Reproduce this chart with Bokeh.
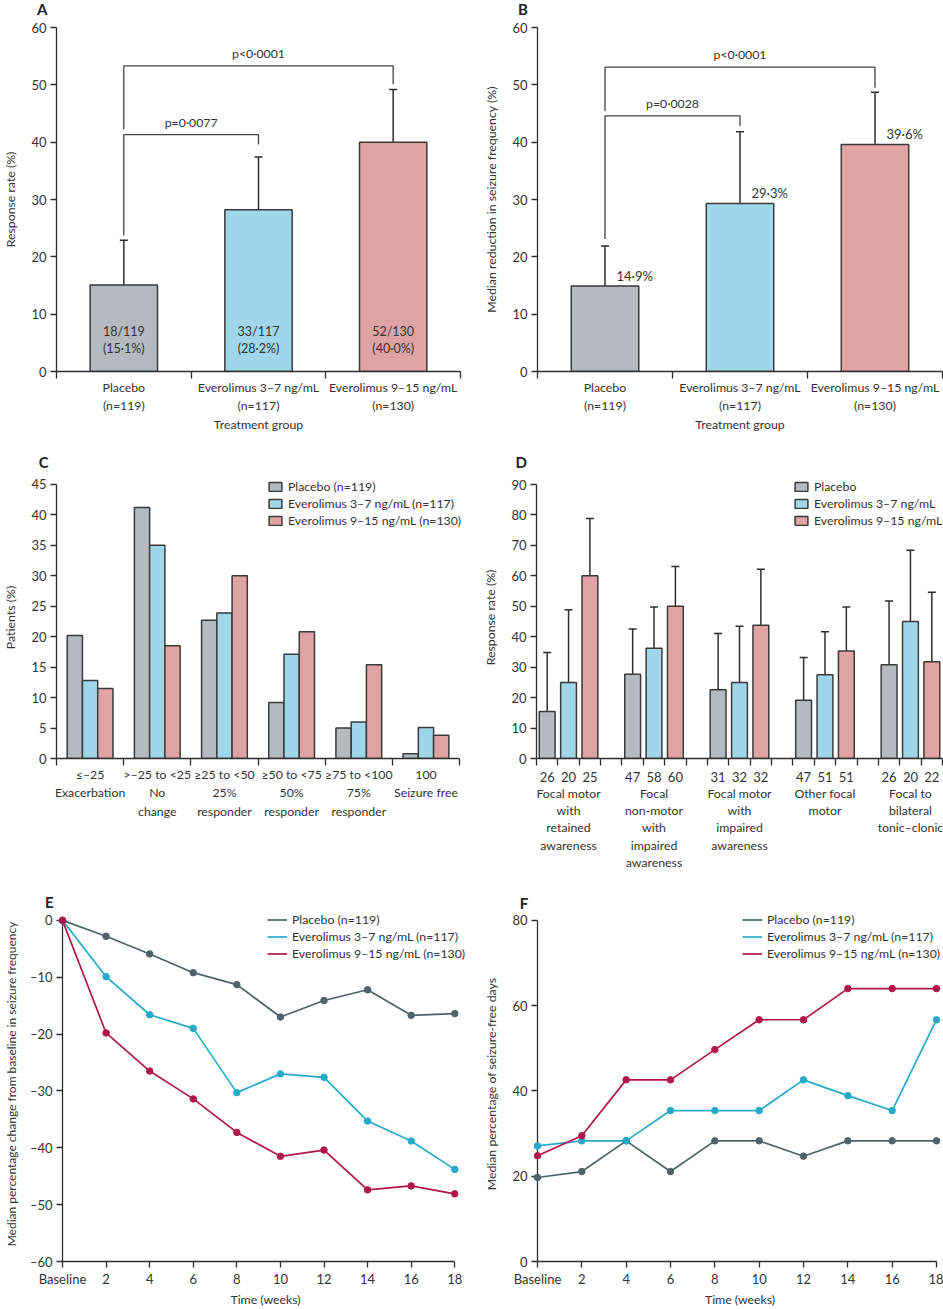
from bokeh.plotting import figure
from bokeh.layouts import column, row
from bokeh.models import (Range1d, FixedTicker, LinearAxis, Legend, LegendItem,
                          Whisker, TeeHead, ColumnDataSource)
from bokeh.core.properties import value
from bokeh.embed import file_html
from bokeh.resources import INLINE

# ---------------- data ----------------
group_names = ["Placebo", "Everolimus 3–7 ng/mL", "Everolimus 9–15 ng/mL"]
group_n = ["(n=119)", "(n=117)", "(n=130)"]
bar_colors = ["#b4babf", "#9fd6e9", "#e0a3a3"]
line_colors = ["#4e6369", "#25aac9", "#b0164b"]

# Panel A
a_rate = [15.1, 28.2, 40.0]
a_lo = [9.3, 20.3, 31.5]
a_hi = [22.9, 37.4, 49.2]
a_counts = ["18/119", "33/117", "52/130"]
a_pct = ["(15·1%)", "(28·2%)", "(40·0%)"]
a_p_text = ["p=0·0077", "p<0·0001"]
a_p_target = [1, 2]
a_p_y = [41.3, 53.3]
a_p_left_end = [23.7, 42.2]
a_p_right_end = [39.6, 50.1]

# Panel B
b_red = [14.9, 29.3, 39.6]
b_lo = [0.0, 18.7, 34.7]
b_hi = [21.9, 41.8, 48.7]
b_labels = ["14·9%", "29·3%", "39·6%"]
b_p_text = ["p=0·0028", "p<0·0001"]
b_p_target = [1, 2]
b_p_y = [44.6, 53.1]
b_p_left_end = [23.1, 45.4]
b_p_right_end = [42.8, 49.5]

# Panel C
c_cats = ["≤–25\nExacerbation", ">–25 to <25\nNo\nchange", "≥25 to <50\n25%\nresponder",
          "≥50 to <75\n50%\nresponder", "≥75 to <100\n75%\nresponder", "100\nSeizure free"]
c_placebo = [20.2, 41.2, 22.7, 9.2, 5.0, 0.8]
c_low = [12.8, 35.0, 23.9, 17.1, 6.0, 5.1]
c_high = [11.5, 18.5, 30.0, 20.8, 15.4, 3.8]
c_legend = ["Placebo (n=119)", "Everolimus 3–7 ng/mL (n=117)", "Everolimus 9–15 ng/mL (n=130)"]

# Panel D
d_groups = ["Focal motor\nwith\nretained\nawareness", "Focal\nnon-motor\nwith\nimpaired\nawareness",
            "Focal motor\nwith\nimpaired\nawareness", "Other focal\nmotor", "Focal to\nbilateral\ntonic–clonic"]
d_placebo = [15.4, 27.7, 22.6, 19.1, 30.8]
d_placebo_lo = [4.4, 15.7, 9.6, 9.1, 14.2]
d_placebo_hi = [34.8, 42.5, 41.1, 33.2, 51.7]
d_low = [25.0, 36.2, 25.0, 27.5, 45.0]
d_low_lo = [8.5, 24.0, 11.5, 15.9, 23.0]
d_low_hi = [48.9, 49.8, 43.4, 41.6, 68.4]
d_high = [60.0, 50.0, 43.8, 35.3, 31.8]
d_high_lo = [38.5, 36.7, 26.3, 22.3, 13.8]
d_high_hi = [78.8, 63.1, 62.2, 49.8, 54.6]
d_n_placebo = [26, 47, 31, 47, 26]
d_n_low = [20, 58, 32, 51, 20]
d_n_high = [25, 60, 32, 51, 22]

# Panels E & F
weeks = [0, 2, 4, 6, 8, 10, 12, 14, 16, 18]
e_placebo = [0, -2.8, -5.9, -9.2, -11.3, -17.0, -14.1, -12.2, -16.7, -16.4]
e_low = [0, -9.9, -16.6, -19.0, -30.3, -27.0, -27.6, -35.3, -38.8, -43.8]
e_high = [0, -19.8, -26.5, -31.4, -37.3, -41.5, -40.4, -47.4, -46.7, -48.1]
f_placebo = [19.7, 21.1, 28.3, 21.1, 28.3, 28.3, 24.7, 28.3, 28.3, 28.3]
f_low = [27.1, 28.3, 28.3, 35.4, 35.4, 35.4, 42.6, 38.9, 35.4, 56.7]
f_high = [24.8, 29.5, 42.6, 42.6, 49.7, 56.7, 56.7, 64.0, 64.0, 64.0]
line_legend = ["Placebo (n=119)", "Everolimus 3–7 ng/mL (n=117)", "Everolimus 9–15 ng/mL (n=130)"]

# ---------------- style ----------------
FONT = "Lato"
TXT = "#333333"
AX = "#2e2e2e"
OUT = "#3a3a3a"
NUM_SIZE = "13px"
WORD_SIZE = "12.3px"


def make_fig(w, h, left, right, top, bottom, xr, yr):
    p = figure(width=w, height=h, x_range=Range1d(*xr), y_range=Range1d(*yr),
               output_backend="svg", toolbar_location=None)
    p.min_border_left = left
    p.min_border_right = right
    p.min_border_top = top
    p.min_border_bottom = bottom
    p.outline_line_color = None
    p.xgrid.visible = False
    p.ygrid.visible = False
    p.background_fill_color = "white"
    p.border_fill_color = "white"
    return p


def style_axis(ax, label=None):
    ax.axis_line_color = AX
    ax.axis_line_width = 1.3
    ax.major_tick_line_color = AX
    ax.major_tick_line_width = 1.3
    ax.major_tick_in = 0
    ax.major_tick_out = 6
    ax.minor_tick_line_color = None
    ax.major_label_text_font = FONT
    ax.major_label_text_font_size = NUM_SIZE
    ax.major_label_text_color = TXT
    ax.major_label_standoff = 4
    ax.axis_label_text_font = FONT
    ax.axis_label_text_font_size = "12.3px"
    ax.axis_label_text_font_style = "normal"
    ax.axis_label_text_color = TXT
    ax.axis_label_standoff = 10
    if label is not None:
        ax.axis_label = label


def y_ticks(p, ticks, label, bounds, overrides=None):
    ax = p.yaxis[0]
    ax.ticker = FixedTicker(ticks=ticks)
    style_axis(ax, label)
    ax.bounds = bounds
    if overrides:
        ax.major_label_overrides = overrides


def cat_x_axis(p, n, labels, label=None):
    ax = p.xaxis[0]
    centers = [i + 0.5 for i in range(n)]
    ax.ticker = FixedTicker(ticks=centers, minor_ticks=list(range(n + 1)))
    style_axis(ax, label)
    ax.bounds = (0, n)
    ax.major_tick_out = 0
    ax.minor_tick_line_color = AX
    ax.minor_tick_line_width = 1.3
    ax.minor_tick_in = 0
    ax.minor_tick_out = 7
    ax.major_label_standoff = 1
    ax.major_label_text_font_size = WORD_SIZE
    ax.major_label_text_line_height = 1.25
    ax.major_label_overrides = {c: t for c, t in zip(centers, labels)}
    ax.axis_label_standoff = 1


def panel_letter(p, letter, x, y):
    p.text(x=[x], y=[y], text=[letter], text_font=value(FONT), text_font_size="15px",
           text_font_style="bold", text_color="#222222", text_baseline="middle",
           text_align="left", level="overlay")


def whiskers(p, xs, lo, hi, size):
    src = ColumnDataSource(dict(x=xs, lo=lo, hi=hi))
    p.add_layout(Whisker(source=src, base="x", lower="lo", upper="hi", dimension="height",
                         line_color=AX, line_width=1.5,
                         upper_head=TeeHead(size=size, line_color=AX, line_width=1.5),
                         lower_head=TeeHead(size=size, line_color=AX, line_width=1.5)))


def brackets(p, texts, targets, ys, lefts, rights):
    xs_list, ys_list, tx, ty = [], [], [], []
    for t, tgt, y, l, r in zip(texts, targets, ys, lefts, rights):
        x0, x1 = 0.5, tgt + 0.5
        xs_list.append([x0, x0, x1, x1])
        ys_list.append([l, y, y, r])
        tx.append((x0 + x1) / 2)
        ty.append(y + 2.2)
    p.multi_line(xs=xs_list, ys=ys_list, line_color="#444444", line_width=1.3)
    p.text(x=tx, y=ty, text=texts, text_align="center", text_baseline="middle",
           text_font=value(FONT), text_font_size=WORD_SIZE, text_color=TXT)


def legend(p, items, loc, glyph_w, glyph_h):
    lg = Legend(items=items, location=loc, orientation="vertical")
    lg.label_text_font = FONT
    lg.label_text_font_size = WORD_SIZE
    lg.label_text_color = TXT
    lg.glyph_width = glyph_w
    lg.glyph_height = glyph_h
    lg.label_height = 14
    lg.label_standoff = 5
    lg.spacing = 2
    lg.padding = 0
    lg.margin = 0
    lg.border_line_color = None
    lg.background_fill_alpha = 0
    p.add_layout(lg)


cx3 = [0.5, 1.5, 2.5]
cat3_labels = [f"{g}\n{n}" for g, n in zip(group_names, group_n)]

# ---------------- Panel A ----------------
pa = make_fig(470, 445, 54, 10, 27, 74, (0, 3), (0, 60))
y_ticks(pa, [0, 10, 20, 30, 40, 50, 60], "Response rate (%)", (0, 60))
cat_x_axis(pa, 3, cat3_labels, "Treatment group")
pa.vbar(x=cx3, top=a_rate, width=0.5, fill_color=bar_colors, line_color=OUT, line_width=1.5)
whiskers(pa, cx3, a_lo, a_hi, 8)
brackets(pa, a_p_text, a_p_target, a_p_y, a_p_left_end, a_p_right_end)
pa.text(x=cx3, y=[7.0] * 3, text=a_counts, text_align="center", text_baseline="middle",
        text_font=value(FONT), text_font_size="12.5px", text_color=TXT)
pa.text(x=cx3, y=[4.0] * 3, text=a_pct, text_align="center", text_baseline="middle",
        text_font=value(FONT), text_font_size="12.5px", text_color=TXT)
panel_letter(pa, "A", -0.145, 63.14)

# ---------------- Panel B ----------------
pb = make_fig(473, 445, 67, 1, 27, 74, (0, 3), (0, 60))
y_ticks(pb, [0, 10, 20, 30, 40, 50, 60], "Median reduction in seizure frequency (%)", (0, 60))
cat_x_axis(pb, 3, cat3_labels, "Treatment group")
pb.vbar(x=cx3, top=b_red, width=0.5, fill_color=bar_colors, line_color=OUT, line_width=1.5)
whiskers(pb, cx3, b_lo, b_hi, 8)
brackets(pb, b_p_text, b_p_target, b_p_y, b_p_left_end, b_p_right_end)
pb.text(x=[c + 0.085 for c in cx3], y=[v + 1.8 for v in b_red], text=b_labels,
        text_align="left", text_baseline="middle",
        text_font=value(FONT), text_font_size=NUM_SIZE, text_color=TXT)
panel_letter(pb, "B", -0.145, 63.14)

# ---------------- Panel C ----------------
pc = make_fig(470, 440, 53, 2, 31, 127, (0, 6.133), (0, 46.31))
y_ticks(pc, [0, 5, 10, 15, 20, 25, 30, 35, 40, 45], "Patients (%)", (0, 45))
cat_x_axis(pc, 6, c_cats)
bw = 0.227
c_series = [c_placebo, c_low, c_high]
c_items = []
for k, (vals, col) in enumerate(zip(c_series, bar_colors)):
    xs = [i + 0.5 + (k - 1) * bw for i in range(6)]
    r = pc.vbar(x=xs, top=vals, width=bw, fill_color=col, line_color=OUT, line_width=1.5)
    c_items.append(LegendItem(label=c_legend[k], renderers=[r]))
legend(pc, c_items, (211, 230), 16, 11)
panel_letter(pc, "C", -0.265, 48.61)

# ---------------- Panel D ----------------
pd_ = make_fig(473, 440, 66, 1, 31, 127, (0, 19), (0, 92.63))
y_ticks(pd_, [0, 10, 20, 30, 40, 50, 60, 70, 80, 90], "Response rate (%)", (0, 90))
d_series = [(d_placebo, d_placebo_lo, d_placebo_hi, d_n_placebo),
            (d_low, d_low_lo, d_low_hi, d_n_low),
            (d_high, d_high_lo, d_high_hi, d_n_high)]
d_items = []
count_map = {}
for k, (vals, lo, hi, ns) in enumerate(d_series):
    xs = [g * 4 + k + 0.5 for g in range(5)]
    r = pd_.vbar(x=xs, top=vals, width=0.74, fill_color=bar_colors[k], line_color=OUT, line_width=1.5)
    d_items.append(LegendItem(label=group_names[k], renderers=[r]))
    whiskers(pd_, xs, lo, hi, 8)
    for x, n in zip(xs, ns):
        count_map[x] = str(n)
ax = pd_.xaxis[0]
ax.ticker = FixedTicker(ticks=sorted(count_map), minor_ticks=list(range(20)))
style_axis(ax)
ax.major_tick_out = 0
ax.minor_tick_line_color = AX
ax.minor_tick_line_width = 1.3
ax.minor_tick_in = 0
ax.minor_tick_out = 7
ax.major_label_standoff = 6
ax.major_label_overrides = count_map
gax = LinearAxis(ticker=FixedTicker(ticks=[g * 4 + 1.5 for g in range(5)]))
style_axis(gax)
gax.axis_line_color = None
gax.major_tick_line_color = None
gax.major_tick_out = 0
gax.major_label_standoff = 1
gax.major_label_text_font_size = WORD_SIZE
gax.major_label_text_line_height = 1.16
gax.major_label_overrides = {g * 4 + 1.5: t for g, t in enumerate(d_groups)}
pd_.add_layout(gax, "below")
legend(pd_, d_items, (257, 230), 16, 11)
panel_letter(pd_, "D", -0.98, 97.24)

# ---------------- Panel E ----------------
e_ticks = [-60, -50, -40, -30, -20, -10, 0]
pe = make_fig(470, 424, 54, 2, 21, 45, (0, 18.63), (-60, 2.44))
y_ticks(pe, e_ticks, "Median percentage change from baseline in seizure frequency", (-60, 0),
        {v: ("–" + str(-v) if v < 0 else str(v)) for v in e_ticks})
pe.yaxis[0].axis_label_text_font_size = "12px"
pe.yaxis[0].axis_label_standoff = 8
ex = pe.xaxis[0]
ex.ticker = FixedTicker(ticks=weeks)
style_axis(ex, "Time (weeks)")
ex.bounds = (0, 18)
ex.major_label_overrides = {0: "Baseline"}
ex.major_label_standoff = 3
ex.axis_label_standoff = 2
e_items = []
for vals, col, lab in zip([e_placebo, e_low, e_high], line_colors, line_legend):
    r = pe.line(x=weeks, y=vals, line_color=col, line_width=1.7)
    pe.scatter(x=weeks, y=vals, size=6.5, marker="circle", fill_color=col, line_color=col, level="overlay")
    e_items.append(LegendItem(label=lab, renderers=[r]))
legend(pe, e_items, (205, 300), 20, 11)
panel_letter(pe, "E", -0.8, 3.15)

# ---------------- Panel F ----------------
pf = make_fig(473, 424, 67, 1, 21, 45, (0, 18.27), (0, 83.26))
y_ticks(pf, [0, 20, 40, 60, 80], "Median percentage of seizure-free days", (0, 80))
fx = pf.xaxis[0]
fx.ticker = FixedTicker(ticks=weeks)
style_axis(fx, "Time (weeks)")
fx.bounds = (0, 18)
fx.major_label_overrides = {0: "Baseline"}
fx.major_label_standoff = 3
fx.axis_label_standoff = 2
f_items = []
for vals, col, lab in zip([f_placebo, f_low, f_high], line_colors, line_legend):
    r = pf.line(x=weeks, y=vals, line_color=col, line_width=1.7)
    pf.scatter(x=weeks, y=vals, size=6.5, marker="circle", fill_color=col, line_color=col, level="overlay")
    f_items.append(LegendItem(label=lab, renderers=[r]))
legend(pf, f_items, (205, 300), 20, 11)
panel_letter(pf, "F", -0.8, 84.18)

layout = column(row(pa, pb), row(pc, pd_), row(pe, pf))
open("out.html", "w").write(file_html(layout, INLINE))
